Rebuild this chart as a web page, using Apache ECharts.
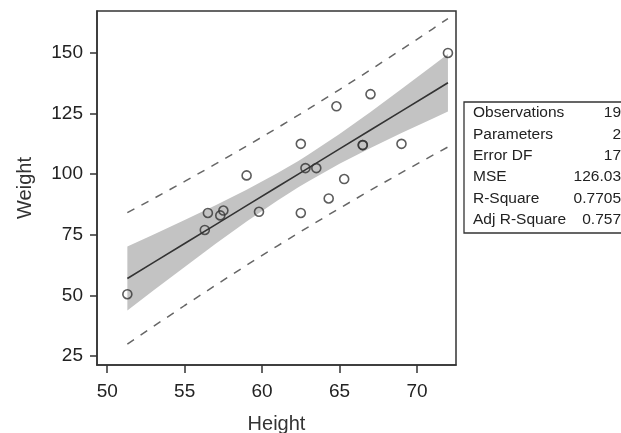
<!DOCTYPE html>
<html><head><meta charset="utf-8">
<script src="https://cdn.jsdelivr.net/npm/echarts@6/dist/echarts.min.js"></script>
<style>html,body{margin:0;padding:0;background:#fff}#c{width:621px;height:433px}</style>
</head><body><div id="c"></div>
<script>
var heights = [69.0,56.5,65.3,62.8,63.5,57.3,59.8,62.5,62.5,59.0,51.3,64.3,56.3,66.5,72.0,64.8,67.0,57.5,66.5];
var weights = [112.5,84.0,98.0,102.5,102.5,83.0,84.5,112.5,84.0,99.5,50.5,90.0,77.0,112.0,150.0,128.0,133.0,85.0,112.0];
var bandX     = [51.3,53,55,57,59,61,62.34,63,65,67,69,71,72];
var fitY      = [56.99,63.62,71.42,79.22,87.02,94.81,100.03,102.61,110.41,118.21,126.01,133.80,137.70];
var clmLower  = [43.79,52.08,61.75,71.26,80.48,89.18,94.60,97.13,104.25,110.77,116.94,122.90,125.85];
var clmUpper  = [70.19,75.16,81.09,87.18,93.56,100.44,105.46,108.09,116.57,125.65,135.08,144.70,149.55];
var plmLower  = [29.87,37.27,45.84,54.23,62.45,70.47,75.73,78.30,85.94,93.38,100.65,107.73,111.21];
var plmUpper  = [84.11,89.97,97.00,104.21,111.59,119.15,124.33,126.92,134.88,143.04,151.37,159.87,164.19];
var xTicks = [50,55,60,65,70];
var yTicks = [25,50,75,100,125,150];
var statLabels = ['Observations','Parameters','Error DF','MSE','R-Square','Adj R-Square'];
var statValues = ['19','2','17','126.03','0.7705','0.757'];

function pairs(xs, ys){ return xs.map(function(x,i){ return [x, ys[i]]; }); }

var font = 'Liberation Sans, Arial, Helvetica, sans-serif';
var chart = echarts.init(document.getElementById('c'));

var graphic = [{
  type:'rect', shape:{x:464, y:102, width:200, height:131},
  style:{fill:'#fff', stroke:'#333', lineWidth:1.3}, z:10
}];
statLabels.forEach(function(l,i){
  var y = 113 + i*21.4;
  graphic.push({type:'text', x:473, y:y, z:11, style:{text:l, font:'15.5px '+font, fill:'#222', textVerticalAlign:'middle'}});
  graphic.push({type:'text', x:621, y:y, z:11, style:{text:statValues[i], font:'15.5px '+font, fill:'#222', textAlign:'right', textVerticalAlign:'middle'}});
});

chart.setOption({
  animation:false,
  backgroundColor:'#fff',
  grid:{left:97, top:11, right:165, bottom:68, containLabel:false, outerBoundsMode:'none',
        show:true, borderColor:'#333', borderWidth:1.5, backgroundColor:'transparent'},
  xAxis:{type:'value', min:49.34, max:72.52,
    name:'Height', nameLocation:'middle', nameGap:49,
    nameTextStyle:{fontSize:20, color:'#333', fontFamily:font},
    axisLine:{lineStyle:{color:'#333', width:1.5}},
    axisTick:{show:true, length:8, lineStyle:{color:'#333', width:1.5}, customValues:xTicks},
    axisLabel:{fontSize:19, color:'#222', margin:17, fontFamily:font, customValues:xTicks},
    splitLine:{show:false}},
  yAxis:{type:'value', min:21.3, max:167.3,
    name:'Weight', nameLocation:'middle', nameGap:62, nameRotate:90,
    nameTextStyle:{fontSize:20, color:'#333', fontFamily:font},
    axisLine:{lineStyle:{color:'#333', width:1.5}},
    axisTick:{show:true, length:7, lineStyle:{color:'#333', width:1.5}, customValues:yTicks},
    axisLabel:{fontSize:19, color:'#222', margin:14, fontFamily:font, customValues:yTicks},
    splitLine:{show:false}},
  graphic: graphic,
  series:[
    {type:'custom', z:1, silent:true,
     data:[0],
     renderItem:function(params, api){
       var pts = [];
       for (var i=0;i<bandX.length;i++) pts.push(api.coord([bandX[i], clmUpper[i]]));
       for (var j=bandX.length-1;j>=0;j--) pts.push(api.coord([bandX[j], clmLower[j]]));
       return {type:'polygon', shape:{points:pts}, style:{fill:'#c3c3c3', stroke:null}};
     }},
    {type:'line', z:3, data:pairs(bandX, fitY), symbol:'none', lineStyle:{color:'#333', width:1.6}},
    {type:'line', z:3, data:pairs(bandX, plmUpper), symbol:'none', lineStyle:{color:'#666', width:1.5, type:[8,8]}},
    {type:'line', z:3, data:pairs(bandX, plmLower), symbol:'none', lineStyle:{color:'#666', width:1.5, type:[8,8]}},
    {type:'scatter', z:4, data:pairs(heights, weights), symbol:'circle', symbolSize:9,
     itemStyle:{color:'rgba(255,255,255,0)', borderColor:'#333', borderWidth:1.6}}
  ]
});
</script></body></html>
